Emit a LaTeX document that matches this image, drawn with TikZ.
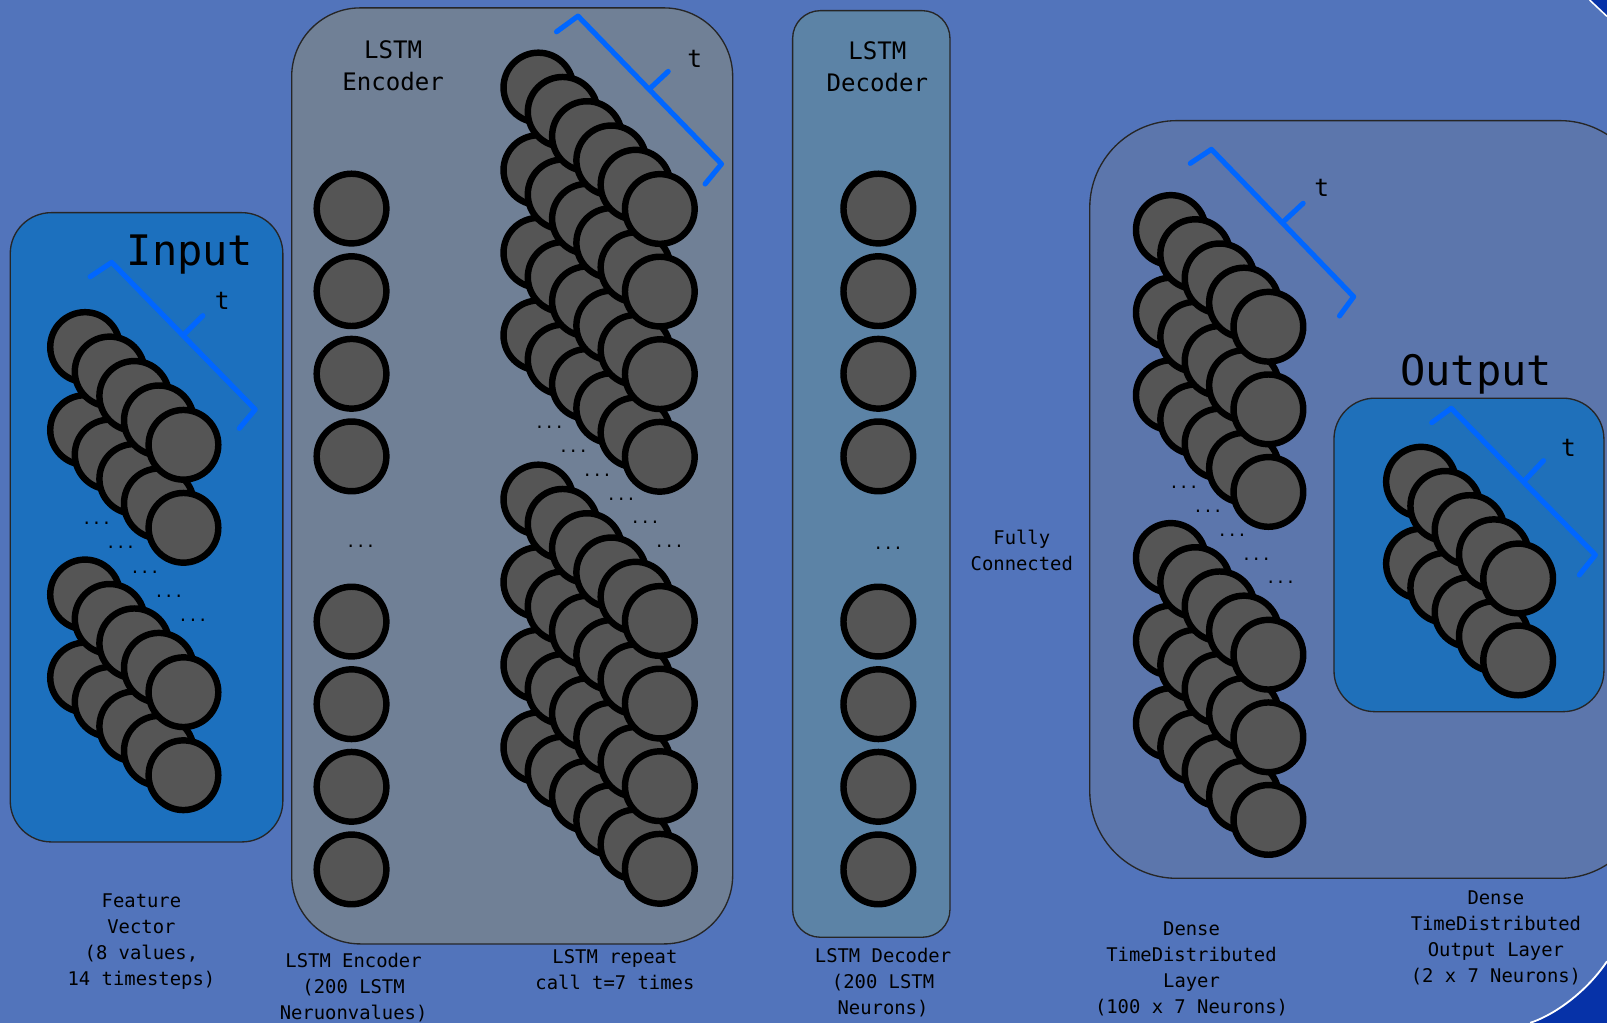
\documentclass[tikz,border=0pt]{standalone}
\usepackage{fontspec}
\setmonofont{DejaVu Sans Mono}
\usetikzlibrary{calc}
\definecolor{bgblue}{RGB}{82,116,187}
\definecolor{cornerblue}{RGB}{6,50,168}
\definecolor{inputfill}{RGB}{28,112,190}
\definecolor{encfill}{RGB}{112,128,150}
\definecolor{decfill}{RGB}{92,131,166}
\definecolor{densefill}{RGB}{92,118,172}
\definecolor{outfill}{RGB}{31,112,186}
\definecolor{neurongray}{RGB}{85,85,85}
\definecolor{brkblue}{RGB}{0,102,255}

% stack of neurons: back x, back y, depth count, rows, dx, dy, row gap
\newcommand\nstack[7]{%
  \pgfmathtruncatemacro\nN{#3-1}%
  \pgfmathtruncatemacro\nR{#4-1}%
  \foreach \k in {0,...,\nN}{%
    \foreach \r in {0,...,\nR}{%
      \draw[neuron] ({#1+\k*#5},{#2+\k*#6+\r*#7}) circle[radius=34];}}}
% time bracket: prefix, start, corner A, corner B, hook end, tick base, tick tip
\newcommand\tbrk[7]{%
  \coordinate (#1S) at #2; \coordinate (#1A) at #3; \coordinate (#1B) at #4;
  \coordinate (#1H) at #5; \coordinate (#1M) at #6; \coordinate (#1T) at #7;
  \draw[brk] (#1S) -- (#1A) -- (#1B) -- (#1H);
  \draw[brk] (#1M) -- (#1T);}

\begin{document}
\begin{tikzpicture}[x=1pt,y=-1pt,
  neuron/.style={draw=black,line width=6.3pt,fill=neurongray},
  panel/.style={draw=black!85,line width=1.3pt},
  brk/.style={draw=brkblue,line width=5pt,line cap=round,line join=round},
  lbl/.style={font=\ttfamily\fontsize{18.4}{25.3}\selectfont,align=center,inner sep=0pt},
  ttl/.style={font=\ttfamily\fontsize{23.5}{31}\selectfont,align=center,inner sep=0pt},
  big/.style={font=\ttfamily\fontsize{41}{41}\selectfont,inner sep=0pt,anchor=base},
  tlab/.style={font=\ttfamily\fontsize{24}{24}\selectfont,inner sep=0pt},
  dotz/.style={font=\ttfamily\fontsize{16}{16}\selectfont,inner sep=0pt,anchor=base}]
\useasboundingbox (0,0) rectangle (1568,998);
\clip (0,0) rectangle (1568,998);
\fill[bgblue] (0,0) rectangle (1568,998);

% slide corner decorations
\fill[cornerblue] (1551,0) -- (1568,16) -- (1568,0) -- cycle;
\draw[white,line width=1.5pt] (1551,0) -- (1568,16);
\fill[cornerblue] (1493,998) .. controls (1512,992) and (1545,972) .. (1568,938) -- (1568,998) -- cycle;
\draw[white,line width=1.8pt] (1493,998) .. controls (1512,992) and (1545,972) .. (1568,938);

% panels
\draw[panel,fill=inputfill,rounded corners=40pt] (10,207.5) rectangle (276,821.5);
\draw[panel,fill=encfill,rounded corners=67pt] (284.6,7.7) rectangle (714.9,921);
\draw[panel,fill=decfill,rounded corners=27pt] (773.4,10.4) rectangle (926.9,914.5);
\draw[panel,fill=densefill,rounded corners=85pt] (1063.3,117.7) rectangle (1607,857);
\draw[panel,fill=outfill,rounded corners=40pt] (1301.6,388.5) rectangle (1565,694.4);

% titles
\node[big] (inTitle) at (185.4,259) {Input};
\node[big] (outTitle) at (1440.4,376.6) {Output};
\node[ttl] (encTitle) at (383.5,64) {LSTM\\Encoder};
\node[ttl] (decTitle) at (856,65.2) {LSTM\\Decoder};

% input neurons
\nstack{83}{338.6}{5}{2}{24}{23.85}{81}
\nstack{83}{580}{5}{2}{24}{23.85}{81}
\foreach \k in {0,...,4}{\node[dotz] (inDots\k) at ({94.3+\k*23.5},{512+\k*23.6}) {...};}

% encoder single column
\foreach \y [count=\i] in {203.5,284.1,364.7,445.3,606.5,687.1,767.7,848.3}{%
  \draw[neuron] (343,\y) circle[radius=34];}
\node[dotz] (encDots) at (352,534) {...};

% encoder repeat stacks
\nstack{525.3}{85.4}{6}{4}{23.7}{23.7}{80.6}
\nstack{525.3}{487.4}{6}{4}{23.7}{23.7}{80.6}
\foreach \k in {0,...,5}{\node[dotz] (repDots\k) at ({536+\k*23.4},{418+\k*23.3}) {...};}

% decoder column
\foreach \y [count=\i] in {203.5,284.1,364.7,445.3,606.5,687.1,767.7,848.3}{%
  \draw[neuron] (857,\y) circle[radius=34];}
\node[dotz] (decDots) at (866.7,536) {...};

% dense stacks
\nstack{1142.4}{224.4}{5}{3}{23.8}{23.6}{80.6}
\nstack{1142.4}{544.4}{5}{3}{23.8}{23.6}{80.6}
\foreach \k in {0,...,4}{\node[dotz] (denDots\k) at ({1155.1+\k*23.6},{477+\k*23.2}) {...};}

% output stack
\nstack{1386.5}{470}{5}{2}{23.7}{23.6}{80}

% time brackets
\tbrk{bi}{(88,270)}{(109,256)}{(249,399.5)}{(233.5,418)}{(180,326)}{(198,308)}
\tbrk{be}{(543,31)}{(564,15.7)}{(704,160)}{(688,179.5)}{(634.5,86)}{(652,69.7)}
\tbrk{bd}{(1161.4,159.4)}{(1182,145.7)}{(1320.8,289.5)}{(1307,308.3)}{(1252.5,216)}{(1271.5,198.4)}
\tbrk{bo}{(1397,412.4)}{(1416,398.4)}{(1556.6,541.5)}{(1541,561)}{(1487.5,469)}{(1506,449.5)}
\node[tlab] (tIn) at (217,293.5) {t};
\node[tlab] (tEnc) at (678,57.5) {t};
\node[tlab] (tDen) at (1289.7,183.7) {t};
\node[tlab] (tOut) at (1530.5,437.4) {t};

% labels
\node[lbl] (fc) at (997,537) {Fully\\Connected};
\node[lbl] (lblIn) at (138,919) {Feature\\Vector\\(8 values,\\14 timesteps)};
\node[lbl] (lblEnc) at (345,964) {LSTM Encoder\\(200 LSTM\\Neruonvalues)};
\node[lbl] (lblRep) at (600,946) {LSTM repeat\\call t=7 times};
\node[lbl] (lblDec) at (861.6,959) {LSTM Decoder\\(200 LSTM\\Neurons)};
\node[lbl] (lblDen) at (1162.6,945.5) {Dense\\TimeDistributed\\Layer\\(100 x 7 Neurons)};
\node[lbl] (lblOut) at (1459.6,915) {Dense\\TimeDistributed\\Output Layer\\(2 x 7 Neurons)};
\end{tikzpicture}
\end{document}
